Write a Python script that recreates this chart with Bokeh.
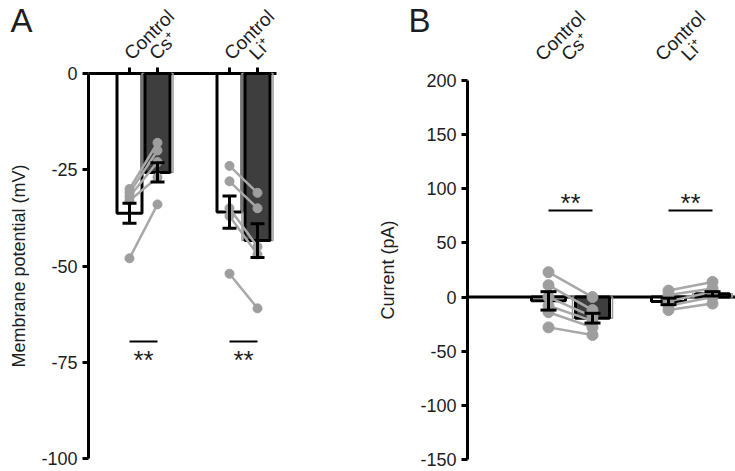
from bokeh.plotting import figure
from bokeh.models import Range1d, FixedTicker, LinearAxis
from bokeh.core.properties import value
from bokeh.embed import file_html
from bokeh.resources import INLINE

# ---------------- data ----------------
groups = ["Cs⁺", "Li⁺"]
ctrl_label = "Control"

# Panel A: membrane potential (mV)
a_ctrl_mean = [-36.3, -36.0]
a_ctrl_sem = [2.6, 4.2]
a_ion_mean = [-25.7, -43.4]
a_ion_sem = [2.5, 4.4]
a_ctrl_pts = [[-30, -31, -32, -33, -48], [-24, -28, -35, -37, -52]]
a_ion_pts = [[-18, -20, -23, -27, -34], [-31, -35, -45, -47, -61]]
a_ticks = [0, -25, -50, -75, -100]
a_sig_y = -69.6

# Panel B: current (pA)
b_ctrl_mean = [-3.5, -4.0]
b_ctrl_sem = [8.5, 3.0]
b_ion_mean = [-19.5, 3.0]
b_ion_sem = [4.5, 2.0]
b_ctrl_pts = [[23, 11, 0, -8, -14, -28], [6, 2, -4, -8, -12]]
b_ion_pts = [[0, -12, -18, -22, -28, -35], [14, 8, 5, 0, -6]]
b_ticks = [200, 150, 100, 50, 0, -50, -100, -150]
b_sig_y = 80

# ---------------- layout / style constants ----------------
W, H = 735, 471
FONT = "Liberation Sans"
TXT = "#1e1e1e"
PT = "#9e9e9e"
LN = "#a8a8a8"
DARK = "#3e3e3e"

# panel A geometry (pixels)
A_AXIS_X, A_ZERO_PX, A_PPU = 88, 73, 3.85
A_X0, A_GAP, A_PAIR, A_LINE_END = 129, 28, 100, 276
# panel B geometry (pixels): 200 at 80 px, -150 at 459 px
B_PPU = (459 - 80) / 350
B_AXIS_X, B_ZERO_PX = 467, 80 + 200 * B_PPU
B_X0, B_GAP, B_PAIR = 548, 44, 120


def ya(px):
    return (A_ZERO_PX - px) / A_PPU


def yb(px):
    return (B_ZERO_PX - px) / B_PPU


p = figure(width=W, height=H, x_range=Range1d(0, W),
           y_range=Range1d(ya(H), ya(0)),
           x_axis_location=None, y_axis_location=None,
           toolbar_location=None, output_backend="svg",
           min_border=0)
p.extra_y_ranges = {"b": Range1d(yb(H), yb(0))}
p.outline_line_color = None
p.grid.visible = False


def make_yaxis(ticks, label, loc, rng, standoff):
    ax = LinearAxis(y_range_name=rng, fixed_location=loc)
    ax.ticker = FixedTicker(ticks=ticks)
    ax.major_label_overrides = {t: str(t) for t in ticks}
    ax.bounds = (min(ticks), max(ticks))
    ax.axis_line_width = 3
    ax.major_tick_line_width = 3
    ax.major_tick_out = 6
    ax.major_tick_in = 0
    ax.minor_tick_line_color = None
    ax.major_label_text_font = FONT
    ax.major_label_text_font_size = "18px"
    ax.major_label_text_color = TXT
    ax.axis_label = label
    ax.axis_label_text_font = FONT
    ax.axis_label_text_font_size = "18px"
    ax.axis_label_text_font_style = "normal"
    ax.axis_label_text_color = TXT
    ax.axis_label_standoff = standoff
    p.add_layout(ax, "left")


make_yaxis(a_ticks, "Membrane potential (mV)", A_AXIS_X, "default", 9)
make_yaxis(b_ticks, "Current (pA)", B_AXIS_X, "b", 19)


def draw_panel(xc, xi, ctrl_mean, ctrl_sem, ion_mean, ion_sem, ctrl_pts, ion_pts,
               bar_w, cap_w, pt_size, rng):
    kw = {"y_range_name": rng}
    p.vbar(x=xc, top=0, bottom=ctrl_mean, width=bar_w, fill_color="white",
           line_color="black", line_width=3, **kw)
    p.vbar(x=xi, top=0, bottom=ion_mean, width=bar_w + 6, fill_color=None,
           line_color="#9a9a9a", line_width=1.5, **kw)
    p.vbar(x=xi, top=0, bottom=ion_mean, width=bar_w, fill_color=DARK,
           line_color="black", line_width=3, **kw)
    for g in range(len(xc)):
        n = len(ctrl_pts[g])
        p.segment(x0=[xc[g]] * n, y0=ctrl_pts[g], x1=[xi[g]] * n, y1=ion_pts[g],
                  line_color=LN, line_width=2.5, **kw)
        p.scatter(x=[xc[g]] * n, y=ctrl_pts[g], size=pt_size, fill_color=PT,
                  line_color=PT, **kw)
        p.scatter(x=[xi[g]] * n, y=ion_pts[g], size=pt_size, fill_color=PT,
                  line_color=PT, **kw)
    for xs, m, s in ((xc, ctrl_mean, ctrl_sem), (xi, ion_mean, ion_sem)):
        lo = [a - b for a, b in zip(m, s)]
        hi = [a + b for a, b in zip(m, s)]
        p.segment(x0=xs, y0=lo, x1=xs, y1=hi, line_color="black", line_width=3, **kw)
        for yy in (lo, hi):
            p.segment(x0=[x - cap_w / 2 for x in xs], y0=yy,
                      x1=[x + cap_w / 2 for x in xs], y1=yy,
                      line_color="black", line_width=3, **kw)


def sig(xc, xi, y, star_y, rng):
    n = len(xc)
    p.segment(x0=xc, y0=[y] * n, x1=xi, y1=[y] * n, line_color="black",
              line_width=2, y_range_name=rng)
    p.text(x=[(a + b) / 2 for a, b in zip(xc, xi)], y=[star_y] * n, text=["**"] * n,
           text_align="center", text_baseline="middle", text_font=value(FONT),
           text_font_size="26px", text_color=TXT, y_range_name=rng)


def top_labels(xs, texts, y, rng):
    p.text(x=xs, y=[y] * len(xs), text=texts, angle=45, angle_units="deg",
           text_align="left", text_baseline="alphabetic", text_font=value(FONT),
           text_font_size="19px", text_color=TXT, y_range_name=rng)


def panel_letter(x, y, t, rng):
    p.text(x=[x], y=[y], text=[t], text_font=value(FONT), text_font_size="33px",
           text_color=TXT, text_baseline="top", y_range_name=rng)


# ---------------- Panel A ----------------
a_xc = [A_X0 + g * A_PAIR for g in range(len(groups))]
a_xi = [x + A_GAP for x in a_xc]
# horizontal zero axis with tick stubs
p.segment(x0=[A_AXIS_X], y0=[0], x1=[A_LINE_END], y1=[0], line_color="black", line_width=3)
p.segment(x0=a_xc + a_xi, y0=[0] * 4, x1=a_xc + a_xi, y1=[ya(A_ZERO_PX - 6)] * 4,
          line_color="black", line_width=3)
draw_panel(a_xc, a_xi, a_ctrl_mean, a_ctrl_sem, a_ion_mean, a_ion_sem,
           a_ctrl_pts, a_ion_pts, bar_w=25, cap_w=14, pt_size=9, rng="default")
sig(a_xc, a_xi, a_sig_y, ya(359), "default")
top_labels([x - 2 for x in a_xc] + [x - 5 for x in a_xi],
           [ctrl_label] * len(groups) + groups, ya(56), "default")
panel_letter(10, ya(1), "A", "default")

# ---------------- Panel B ----------------
b_xc = [B_X0 + g * B_PAIR for g in range(len(groups))]
b_xi = [x + B_GAP for x in b_xc]
p.segment(x0=[B_AXIS_X], y0=[0], x1=[W], y1=[0], line_color="black", line_width=3,
          y_range_name="b")
draw_panel(b_xc, b_xi, b_ctrl_mean, b_ctrl_sem, b_ion_mean, b_ion_sem,
           b_ctrl_pts, b_ion_pts, bar_w=34, cap_w=16, pt_size=11, rng="b")
sig(b_xc, b_xi, b_sig_y, yb(202), "b")
top_labels([x - 10 for x in b_xc] + [x + 16 for x in b_xc],
           [ctrl_label] * len(groups) + groups, yb(57), "b")
panel_letter(408, yb(1), "B", "b")

open("out.html", "w").write(file_html(p, INLINE))
